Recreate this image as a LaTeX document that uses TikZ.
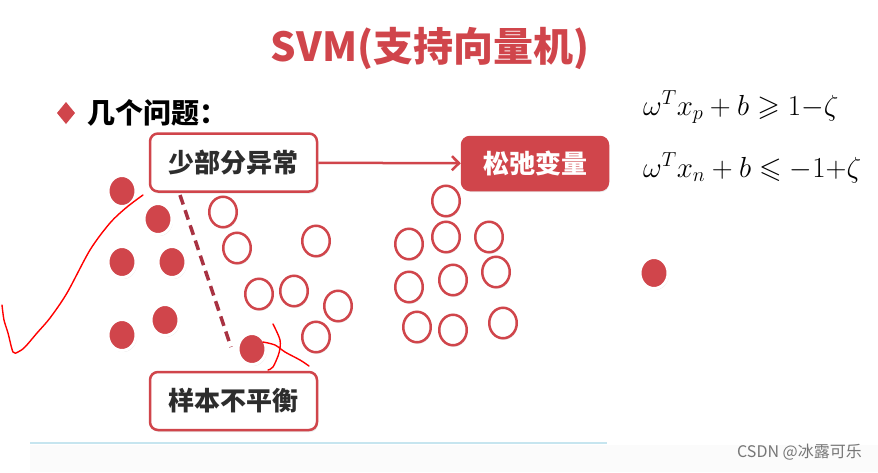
\RequirePackage{fix-cm}
\documentclass[tikz,border=0pt]{standalone}
\usepackage{amsmath,amssymb}
\usepackage{fontspec}
\newfontfamily\cjk{Noto Sans CJK SC}
\usetikzlibrary{shapes.geometric, arrows.meta, shadows, positioning}

\definecolor{svmred}{RGB}{208,69,75}
\definecolor{dashred}{RGB}{168,50,66}
\definecolor{textgray}{RGB}{45,45,45}
\definecolor{rulecyan}{RGB}{198,229,239}
\definecolor{markgray}{RGB}{118,118,118}

\begin{document}
\begin{tikzpicture}[
  x=1pt, y=-1pt,
  box/.style={draw=svmred, line width=2.5pt, rounded corners=8pt, fill=white,
    minimum width=167pt, minimum height=58pt, inner sep=0pt, text=textgray,
    font=\cjk\bfseries\fontsize{26}{28}\selectfont,
    drop shadow={opacity=0.18, shadow xshift=1pt, shadow yshift=-2pt}},
  redbox/.style={box, fill=svmred, text=white, minimum width=146pt, minimum height=53pt},
  negsample/.style={ellipse, fill=svmred, draw=white, line width=3pt, inner sep=0pt,
    minimum width=28pt, minimum height=31pt,
    drop shadow={opacity=0.2, shadow xshift=1pt, shadow yshift=-1.5pt}},
  possample/.style={ellipse, fill=white, draw=svmred, line width=2.5pt, inner sep=0pt,
    minimum width=27.5pt, minimum height=30.5pt,
    drop shadow={opacity=0.2, shadow xshift=1pt, shadow yshift=-1.5pt}},
  hand/.style={red, line width=1.4pt, line cap=round, line join=round}
  ]
  \useasboundingbox (0,0) rectangle (878,472);
  \fill[white] (0,0) rectangle (878,472);
  \fill[black!1.5] (30,445) rectangle (878,472);

  % title and heading
  \node[text=svmred, font=\cjk\bfseries\fontsize{40}{44}\selectfont] (title) at (430,48) {SVM(支持向量机)};
  \coordinate (bullet) at (66,113);
  \fill[svmred] (bullet) ++(0,-11) -- ++(9,11) -- ++(-9,11) -- ++(-9,-11) -- cycle;
  \node[right=21pt of bullet, inner sep=0pt, font=\cjk\bfseries\fontsize{28}{30}\selectfont] (questions) {几个问题：};

  % constraints
  \node[anchor=base west, inner sep=0pt, font=\fontsize{29}{32}\selectfont] (cpos) at (643,115)
    {$\omega^T x_p + b \geqslant 1{-}\zeta$};
  \node[anchor=base west, inner sep=0pt, font=\fontsize{29}{32}\selectfont] (cneg) at (643,177)
    {$\omega^T x_n + b \leqslant -1{+}\zeta$};

  % samples
  \foreach \px/\py [count=\i] in {223/212, 237/248, 316/241, 259/294, 294/291, 338/306, 316/337,
      446/201, 409/244, 446/237, 489/237, 409/287, 453/280, 496/272, 417/327, 453/330, 503/323}
    \node[possample] (p\i) at (\px,\py) {};
  \foreach \px/\py [count=\i] in {122/191, 158/219, 122/262, 172/262, 122/335, 165/320, 252/349, 654/273}
    \node[negsample] (n\i) at (\px,\py) {};

  % boxes
  \node[box] (outlier) at (233.5,162.5) {少部分异常};
  \node[redbox] (slack) at (535,163.5) {松弛变量};
  \node[box] (imbalance) at (233.5,401) {样本不平衡};
  \draw[svmred, line width=2.5pt, -{Straight Barb[length=7pt, width=14pt]}] (outlier) -- (slack);

  % separating line
  \coordinate (sep top) at (180,195);
  \coordinate (sep bot) at (231,347);
  \draw[dashred, line width=3.5pt, dash pattern=on 10pt off 6pt] (sep top) -- (sep bot);

  % hand marks
  \draw[hand] plot[smooth] coordinates {(2,305) (4,320) (8,333) (13,352) (18,352) (25,347) (37,333)
    (50,318) (67,293) (90,250) (110,223) (127,207) (143,195)};
  \draw[hand] plot[smooth] coordinates {(273,324) (280,340) (279,353) (273,367) (268,370)};
  \draw[hand] plot[smooth] coordinates {(263,342) (275,345) (285,352) (300,360) (309,366)};

  % footer
  \coordinate (rule l) at (30,443);
  \coordinate (rule r) at (607,443);
  \draw[rulecyan, line width=2pt] (rule l) -- (rule r);
  \node[text=markgray, font=\cjk\fontsize{16}{18}\selectfont, anchor=east, inner sep=0pt] (mark) at (862,452) {CSDN @冰露可乐};
\end{tikzpicture}
\end{document}
